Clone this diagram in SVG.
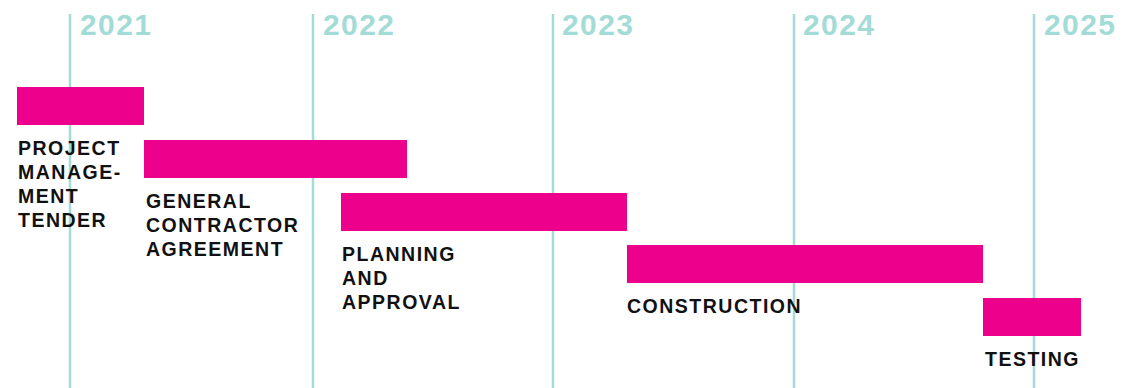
<svg xmlns="http://www.w3.org/2000/svg" width="1130" height="388" viewBox="0 0 1130 388">
<style>
.grid{stroke:#a3dcd7;stroke-width:2.5;fill:none}
.year{font-family:"Liberation Sans",Arial,sans-serif;font-size:30px;fill:#a3dcd7;font-weight:bold;letter-spacing:1.4px}
.bar{fill:#ec008c}
.lbl{font-family:"Liberation Sans",Arial,sans-serif;font-size:19.5px;fill:#111;font-weight:bold;letter-spacing:1.5px}
</style>
<rect width="1130" height="388" fill="#fff"/>
<g id="axis">
<line class="grid" x1="70" y1="14" x2="70" y2="388"/>
<line class="grid" x1="313" y1="14" x2="313" y2="388"/>
<line class="grid" x1="553" y1="14" x2="553" y2="388"/>
<line class="grid" x1="794" y1="14" x2="794" y2="388"/>
<line class="grid" x1="1034" y1="14" x2="1034" y2="388"/>
<text class="year" x="80" y="35">2021</text>
<text class="year" x="323" y="35">2022</text>
<text class="year" x="562" y="35">2023</text>
<text class="year" x="803" y="35">2024</text>
<text class="year" x="1044" y="35">2025</text>
</g>
<g id="project-management-tender">
<rect class="bar" x="17" y="87" width="127" height="38"/>
<text class="lbl" x="18" y="155">PROJECT</text>
<text class="lbl" x="18" y="179">MANAGE-</text>
<text class="lbl" x="18" y="203">MENT</text>
<text class="lbl" x="18" y="227">TENDER</text>
</g>
<g id="general-contractor-agreement">
<rect class="bar" x="144" y="140" width="263" height="38"/>
<text class="lbl" x="146" y="208">GENERAL</text>
<text class="lbl" x="146" y="232">CONTRACTOR</text>
<text class="lbl" x="146" y="256">AGREEMENT</text>
</g>
<g id="planning-and-approval">
<rect class="bar" x="341" y="193" width="286" height="38"/>
<text class="lbl" x="342" y="261">PLANNING</text>
<text class="lbl" x="342" y="285">AND</text>
<text class="lbl" x="342" y="309">APPROVAL</text>
</g>
<g id="construction">
<rect class="bar" x="627" y="245" width="356" height="38"/>
<text class="lbl" x="627" y="313">CONSTRUCTION</text>
</g>
<g id="testing">
<rect class="bar" x="983" y="298" width="98" height="38"/>
<text class="lbl" x="985" y="366">TESTING</text>
</g>
<g id="connectors"></g>
</svg>
